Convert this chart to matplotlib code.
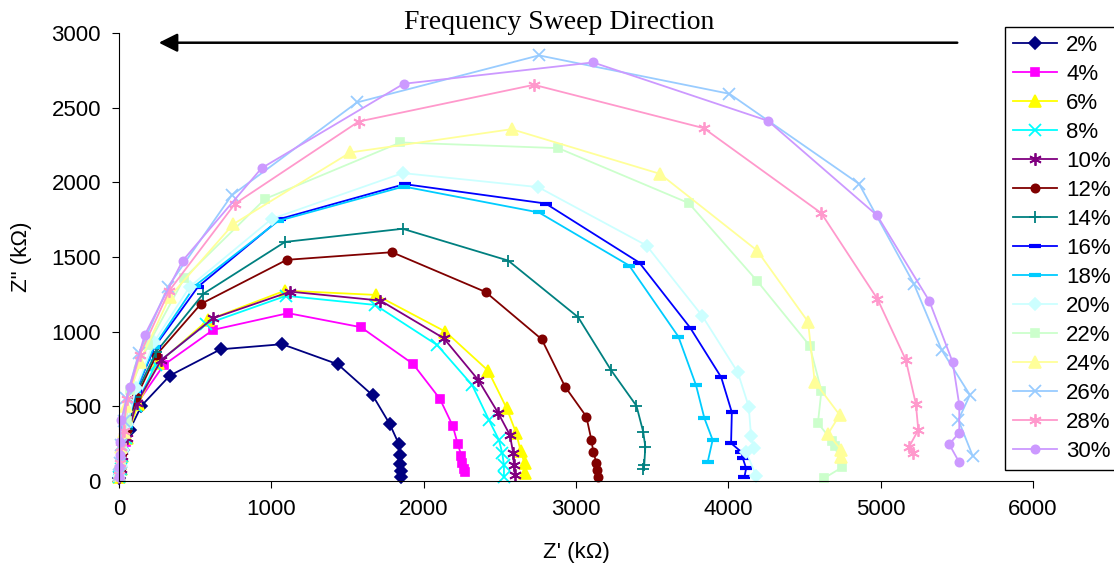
import matplotlib.pyplot as plt

# Nyquist data (kOhm)
labels = ['2%', '4%', '6%', '8%', '10%', '12%', '14%', '16%', '18%',
          '20%', '22%', '24%', '26%', '28%', '30%']

z2_re = [3, 8, 26, 70, 147, 334, 667, 1071, 1436, 1665, 1777, 1836, 1844, 1846, 1848, 1850]
z2_im = [20, 60, 208, 342, 503, 706, 882, 916, 782, 574, 382, 250, 174, 114, 69, 29]
z4_re = [3, 8, 20, 45, 120, 294, 618, 1110, 1588, 1930, 2106, 2191, 2224, 2248, 2254, 2264, 2270]
z4_im = [25, 70, 150, 260, 521, 777, 1012, 1124, 1030, 784, 551, 369, 246, 170, 123, 78, 60]
z6_re = [3, 10, 22, 50, 125, 257, 586, 1090, 1687, 2143, 2423, 2545, 2608, 2636, 2662, 2665]
z6_im = [30, 80, 170, 290, 514, 789, 1079, 1275, 1246, 1000, 739, 487, 319, 203, 119, 52]
z8_re = [3, 10, 22, 48, 110, 240, 570, 1097, 1682, 2088, 2318, 2428, 2494, 2516, 2527, 2527]
z8_im = [30, 80, 170, 290, 505, 780, 1050, 1240, 1179, 911, 643, 409, 275, 186, 107, 29]
z10_re = [3, 10, 22, 50, 115, 278, 618, 1124, 1716, 2132, 2358, 2490, 2566, 2588, 2592, 2599]
z10_im = [30, 80, 170, 290, 520, 811, 1090, 1268, 1208, 956, 677, 454, 308, 186, 107, 40]
z12_re = [3, 10, 22, 50, 114, 245, 538, 1101, 1792, 2406, 2775, 2928, 3068, 3101, 3114, 3134, 3140, 3145]
z12_im = [30, 90, 190, 340, 561, 844, 1186, 1481, 1532, 1266, 949, 632, 431, 275, 192, 123, 74, 29]
z14_re = [3, 10, 24, 55, 103, 245, 553, 1090, 1862, 2555, 3014, 3229, 3397, 3441, 3455, 3448, 3443]
z14_im = [35, 100, 200, 350, 565, 866, 1253, 1601, 1689, 1476, 1097, 744, 503, 330, 230, 107, 78]
z16_re = [3, 10, 25, 55, 110, 235, 520, 1057, 1875, 2801, 3415, 3749, 3953, 4023, 4018, 4084, 4095, 4117, 4106]
z16_im = [35, 100, 210, 370, 600, 900, 1302, 1755, 1988, 1858, 1463, 1027, 695, 460, 253, 196, 152, 85, 29]
z18_re = [3, 10, 25, 55, 108, 230, 498, 1046, 1869, 2757, 3349, 3672, 3788, 3843, 3897, 3864]
z18_im = [35, 100, 210, 370, 600, 900, 1307, 1742, 1972, 1798, 1443, 967, 641, 420, 275, 125]
z20_re = [3, 10, 25, 55, 110, 230, 465, 1002, 1862, 2752, 3463, 3827, 4062, 4134, 4149, 4167, 4117, 4183]
z20_im = [35, 100, 210, 380, 620, 930, 1302, 1755, 2062, 1968, 1577, 1108, 728, 498, 302, 219, 196, 33]
z22_re = [3, 10, 22, 50, 70, 191, 428, 959, 1847, 2884, 3740, 4187, 4534, 4611, 4588, 4683, 4698, 4747, 4628]
z22_im = [40, 110, 220, 400, 610, 911, 1358, 1889, 2267, 2229, 1861, 1342, 906, 603, 387, 268, 236, 92, 18]
z24_re = [3, 8, 15, 30, 48, 136, 334, 750, 1518, 2577, 3551, 4189, 4523, 4567, 4731, 4654, 4742, 4742]
z24_im = [40, 120, 230, 330, 503, 799, 1235, 1720, 2200, 2356, 2057, 1543, 1067, 665, 442, 315, 208, 163]
z26_re = [3, 8, 15, 30, 48, 130, 322, 739, 1562, 2757, 4007, 4858, 5218, 5400, 5586, 5510, 5604]
z26_im = [40, 120, 240, 400, 554, 856, 1302, 1912, 2535, 2850, 2593, 1990, 1320, 878, 576, 409, 168]
z28_re = [3, 8, 15, 30, 53, 136, 329, 761, 1573, 2724, 3838, 4610, 4979, 5165, 5231, 5247, 5187, 5214]
z28_im = [40, 120, 230, 337, 547, 844, 1273, 1856, 2407, 2653, 2363, 1794, 1219, 811, 516, 342, 230, 186]
z30_re = [2, 3, 4, 6, 15, 70, 169, 417, 936, 1869, 3112, 4260, 4977, 5319, 5473, 5516, 5516, 5450, 5516]
z30_im = [29, 96, 174, 263, 409, 632, 978, 1474, 2095, 2660, 2803, 2412, 1778, 1206, 795, 509, 324, 246, 125]

series_re = [z2_re, z4_re, z6_re, z8_re, z10_re, z12_re, z14_re, z16_re, z18_re,
             z20_re, z22_re, z24_re, z26_re, z28_re, z30_re]
series_im = [z2_im, z4_im, z6_im, z8_im, z10_im, z12_im, z14_im, z16_im, z18_im,
             z20_im, z22_im, z24_im, z26_im, z28_im, z30_im]

colors = ['#000080', '#FF00FF', '#FFFF00', '#00FFFF', '#800080', '#800000',
          '#008080', '#0000FF', '#00CCFF', '#CCFFFF', '#CCFFCC', '#FFFF99',
          '#99CCFF', '#FF99CC', '#CC99FF']
asterisk = (6, 2, 0)
markers = ['D', 's', '^', 'x', asterisk, 'o', '+', '_', '_', 'D', 's', '^',
           'x', asterisk, 'o']

plt.rcParams['font.family'] = ['Liberation Sans', 'DejaVu Sans']

fig = plt.figure(figsize=(11.14, 5.67), dpi=100)
ax = fig.add_axes([119 / 1114, 86 / 567, 914 / 1114, 448 / 567])

for k in range(len(labels)):
    m = markers[k]
    ms = 6
    mew = 1.2
    if m == '^':
        ms = 8
    if m in ('x', '+', asterisk):
        ms = 9
        mew = 1.3
    if m == '_':
        ms = 8
        mew = 3
    ax.plot(series_re[k], series_im[k], color=colors[k], marker=m, ms=ms,
            mew=mew, lw=1.3, label=labels[k], clip_on=False)

ax.set_xlim(0, 6000)
ax.set_ylim(0, 3000)
ax.set_xticks(range(0, 6001, 1000))
ax.set_yticks(range(0, 3001, 500))
ax.spines['top'].set_visible(False)
ax.spines['right'].set_visible(False)
ax.tick_params(direction='out', length=5, labelsize=16, pad=8)
ax.set_xlabel("Z' (k\u03a9)", fontsize=16, labelpad=16)
ax.set_ylabel('Z" (k\u03a9)', fontsize=16, labelpad=14)

# sweep direction arrow
ax.annotate('', xy=(243, 2935), xytext=(5521, 2935),
            arrowprops=dict(arrowstyle='-|>', color='black', lw=1.8,
                            mutation_scale=28), annotation_clip=False)
ax.text(2889, 3070, 'Frequency Sweep Direction', ha='center', va='center',
        fontsize=20, family='Liberation Serif', clip_on=False)

leg = fig.legend(loc='upper left', bbox_to_anchor=(1005 / 1114, 1 - 27 / 567),
                 borderaxespad=0, fontsize=16, fancybox=False,
                 edgecolor='black', framealpha=1, handlelength=2.0,
                 labelspacing=0.36, borderpad=0.35, handletextpad=0.4)
leg.get_frame().set_linewidth(1.0)

fig.savefig('out.png', dpi=100)
